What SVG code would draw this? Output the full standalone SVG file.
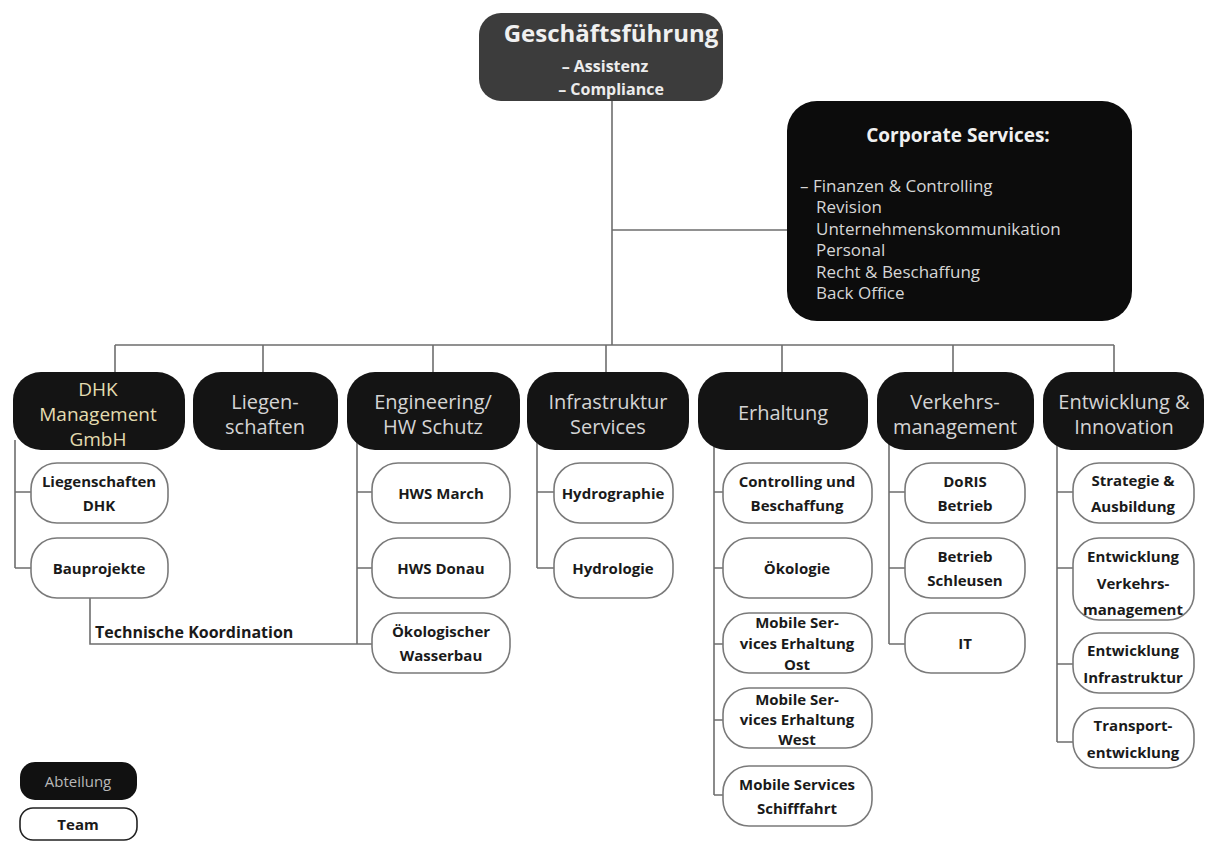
<svg xmlns="http://www.w3.org/2000/svg" width="1206" height="844" viewBox="0 0 1206 844">
<style>
.bg{fill:#ffffff}
.conn{stroke:#6e6e6e;stroke-width:1.6;fill:none}
.dept{fill:#141414}
.team{fill:#ffffff;stroke:#7a7a7a;stroke-width:1.6}
.dt{font-family:"Open Sans","Liberation Sans",sans-serif;font-size:20px;fill:#d4d4d4;text-anchor:middle}
.dhk{fill:#e4dcb0;font-size:19px}
.tt{font-family:"Open Sans","Liberation Sans",sans-serif;font-size:15px;font-weight:bold;fill:#1a1a1a;text-anchor:middle}
.cs{font-family:"Open Sans","Liberation Sans",sans-serif;font-size:17px;fill:#d6d6d6}
</style>
<rect class="bg" x="0" y="0" width="1206" height="844"/>

<g id="connectors">
  <path class="conn" d="M612,100 V345 M612,230 H787"/>
  <path class="conn" d="M115,345 H1114 M115,345 V372 M263,345 V372 M433,345 V372 M606,345 V372 M782,345 V372 M953,345 V372 M1114,345 V372"/>
  <path class="conn" d="M15,440 V568 M15,492 H31 M15,568 H31"/>
  <path class="conn" d="M90,598 V644 H372"/>
  <path class="conn" d="M357,440 V644 M357,492 H372 M357,568 H372"/>
  <path class="conn" d="M537,440 V568 M537,492 H554 M537,568 H554"/>
  <path class="conn" d="M714,440 V795 M714,492 H723 M714,568 H723 M714,644 H723 M714,720 H723 M714,795 H723"/>
  <path class="conn" d="M889,440 V644 M889,492 H905 M889,568 H905 M889,644 H905"/>
  <path class="conn" d="M1057,440 V742 M1057,492 H1073 M1057,568 H1073 M1057,664 H1073 M1057,742 H1073"/>
</g>

<g id="geschaeftsfuehrung">
  <rect x="479" y="13" width="244" height="88" rx="22" fill="#3c3c3c"/>
  <text x="611" y="42" font-family="'Open Sans','Liberation Sans',sans-serif" font-size="24" font-weight="bold" fill="#f0f0f0" text-anchor="middle">Geschäftsführung</text>
  <text x="605" y="72" font-family="'Open Sans','Liberation Sans',sans-serif" font-size="16" font-weight="bold" fill="#ececec" text-anchor="middle">– Assistenz</text>
  <text x="611" y="95" font-family="'Open Sans','Liberation Sans',sans-serif" font-size="16" font-weight="bold" fill="#ececec" text-anchor="middle">– Compliance</text>
</g>

<g id="corporate-services">
  <rect x="787" y="101" width="345" height="220" rx="30" fill="#0c0c0c"/>
  <text x="958" y="142" font-family="'Open Sans','Liberation Sans',sans-serif" font-size="19" font-weight="bold" fill="#f0f0f0" text-anchor="middle">Corporate Services:</text>
  <text class="cs" x="800" y="192">– Finanzen &amp; Controlling</text>
  <text class="cs" x="816" y="213">Revision</text>
  <text class="cs" x="816" y="235">Unternehmenskommunikation</text>
  <text class="cs" x="816" y="256">Personal</text>
  <text class="cs" x="816" y="278">Recht &amp; Beschaffung</text>
  <text class="cs" x="816" y="299">Back Office</text>
</g>

<g id="dept-dhk">
  <rect class="dept" x="13" y="372" width="172" height="78" rx="28"/>
  <text class="dt dhk" x="98" y="396">DHK</text>
  <text class="dt dhk" x="98" y="421">Management</text>
  <text class="dt dhk" x="98" y="446">GmbH</text>
</g>
<g id="dept-liegenschaften">
  <rect class="dept" x="193" y="372" width="145" height="78" rx="28"/>
  <text class="dt" x="265" y="409">Liegen-</text>
  <text class="dt" x="265" y="434">schaften</text>
</g>
<g id="dept-engineering">
  <rect class="dept" x="347" y="372" width="173" height="78" rx="28"/>
  <text class="dt" x="433" y="409">Engineering/</text>
  <text class="dt" x="433" y="434">HW Schutz</text>
</g>
<g id="dept-infrastruktur">
  <rect class="dept" x="527" y="372" width="162" height="78" rx="28"/>
  <text class="dt" x="608" y="409">Infrastruktur</text>
  <text class="dt" x="608" y="434">Services</text>
</g>
<g id="dept-erhaltung">
  <rect class="dept" x="698" y="372" width="170" height="78" rx="28"/>
  <text class="dt" x="783" y="420">Erhaltung</text>
</g>
<g id="dept-verkehrsmanagement">
  <rect class="dept" x="877" y="372" width="157" height="78" rx="28"/>
  <text class="dt" x="955" y="409">Verkehrs-</text>
  <text class="dt" x="955" y="434">management</text>
</g>
<g id="dept-entwicklung">
  <rect class="dept" x="1043" y="372" width="161" height="78" rx="28"/>
  <text class="dt" x="1124" y="409">Entwicklung &amp;</text>
  <text class="dt" x="1124" y="434">Innovation</text>
</g>

<g id="team-liegenschaften-dhk">
  <rect class="team" x="31" y="463" width="137" height="60" rx="26"/>
  <text class="tt" x="99" y="487">Liegenschaften</text>
  <text class="tt" x="99" y="511">DHK</text>
</g>
<g id="team-bauprojekte">
  <rect class="team" x="31" y="538" width="137" height="60" rx="26"/>
  <text class="tt" x="99" y="574">Bauprojekte</text>
</g>
<g id="label-technische-koordination">
  <text x="95" y="638" font-family="'Open Sans','Liberation Sans',sans-serif" font-size="16" font-weight="bold" fill="#1a1a1a">Technische Koordination</text>
</g>

<g id="team-hws-march">
  <rect class="team" x="372" y="463" width="138" height="60" rx="26"/>
  <text class="tt" x="441" y="499">HWS March</text>
</g>
<g id="team-hws-donau">
  <rect class="team" x="372" y="538" width="138" height="60" rx="26"/>
  <text class="tt" x="441" y="574">HWS Donau</text>
</g>
<g id="team-oekologischer-wasserbau">
  <rect class="team" x="372" y="613" width="138" height="60" rx="26"/>
  <text class="tt" x="441" y="637">Ökologischer</text>
  <text class="tt" x="441" y="661">Wasserbau</text>
</g>

<g id="team-hydrographie">
  <rect class="team" x="554" y="463" width="119" height="60" rx="26"/>
  <text class="tt" x="613" y="499">Hydrographie</text>
</g>
<g id="team-hydrologie">
  <rect class="team" x="554" y="538" width="119" height="60" rx="26"/>
  <text class="tt" x="613" y="574">Hydrologie</text>
</g>

<g id="team-controlling">
  <rect class="team" x="723" y="463" width="149" height="60" rx="26"/>
  <text class="tt" x="797" y="487">Controlling und</text>
  <text class="tt" x="797" y="511">Beschaffung</text>
</g>
<g id="team-oekologie">
  <rect class="team" x="723" y="538" width="149" height="60" rx="26"/>
  <text class="tt" x="797" y="574">Ökologie</text>
</g>
<g id="team-mobile-ost">
  <rect class="team" x="723" y="613" width="149" height="60" rx="26"/>
  <text class="tt" x="797" y="628">Mobile Ser-</text>
  <text class="tt" x="797" y="649">vices Erhaltung</text>
  <text class="tt" x="797" y="670">Ost</text>
</g>
<g id="team-mobile-west">
  <rect class="team" x="723" y="688" width="149" height="60" rx="26"/>
  <text class="tt" x="797" y="705">Mobile Ser-</text>
  <text class="tt" x="797" y="725">vices Erhaltung</text>
  <text class="tt" x="797" y="745">West</text>
</g>
<g id="team-mobile-schifffahrt">
  <rect class="team" x="723" y="766" width="149" height="60" rx="26"/>
  <text class="tt" x="797" y="790">Mobile Services</text>
  <text class="tt" x="797" y="814">Schifffahrt</text>
</g>

<g id="team-doris">
  <rect class="team" x="905" y="463" width="120" height="60" rx="26"/>
  <text class="tt" x="965" y="487">DoRIS</text>
  <text class="tt" x="965" y="511">Betrieb</text>
</g>
<g id="team-schleusen">
  <rect class="team" x="905" y="538" width="120" height="60" rx="26"/>
  <text class="tt" x="965" y="562">Betrieb</text>
  <text class="tt" x="965" y="586">Schleusen</text>
</g>
<g id="team-it">
  <rect class="team" x="905" y="613" width="120" height="60" rx="26"/>
  <text class="tt" x="965" y="649">IT</text>
</g>

<g id="team-strategie">
  <rect class="team" x="1073" y="463" width="121" height="60" rx="26"/>
  <text class="tt" x="1133" y="486">Strategie &amp;</text>
  <text class="tt" x="1133" y="512">Ausbildung</text>
</g>
<g id="team-entw-verkehr">
  <rect class="team" x="1073" y="538" width="121" height="82" rx="26"/>
  <text class="tt" x="1133" y="562">Entwicklung</text>
  <text class="tt" x="1133" y="589">Verkehrs-</text>
  <text class="tt" x="1133" y="615">management</text>
</g>
<g id="team-entw-infra">
  <rect class="team" x="1073" y="633" width="121" height="60" rx="26"/>
  <text class="tt" x="1133" y="656">Entwicklung</text>
  <text class="tt" x="1133" y="683">Infrastruktur</text>
</g>
<g id="team-transport">
  <rect class="team" x="1073" y="708" width="121" height="60" rx="26"/>
  <text class="tt" x="1133" y="731">Transport-</text>
  <text class="tt" x="1133" y="758">entwicklung</text>
</g>

<g id="legend">
  <rect x="20" y="762" width="117" height="38" rx="15" fill="#111111"/>
  <text x="78" y="787" font-family="'Open Sans','Liberation Sans',sans-serif" font-size="15" fill="#b8b8b8" text-anchor="middle">Abteilung</text>
  <rect x="20" y="808" width="117" height="32" rx="13" fill="#ffffff" stroke="#222222" stroke-width="1.6"/>
  <text x="78" y="830" font-family="'Open Sans','Liberation Sans',sans-serif" font-size="15" font-weight="bold" fill="#1a1a1a" text-anchor="middle">Team</text>
</g>
</svg>
